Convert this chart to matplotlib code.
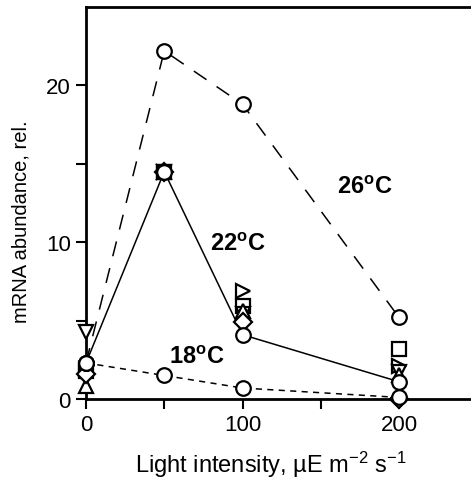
import matplotlib
matplotlib.use("Agg")
import matplotlib.pyplot as plt

plt.rcParams['font.family'] = ['Liberation Sans', 'DejaVu Sans']
plt.rcParams['mathtext.fontset'] = 'custom'
plt.rcParams['mathtext.rm'] = 'Liberation Sans'
plt.rcParams['mathtext.it'] = 'Liberation Sans:italic'
plt.rcParams['mathtext.bf'] = 'Liberation Sans:bold'

# Data
light = [0, 50, 100, 200]
c26 = [2.3, 22.2, 18.8, 5.2]
c22 = [2.3, 14.5, 4.1, 1.1]
c18 = [2.3, 1.5, 0.7, 0.1]
sq = [1.8, 14.5, 5.9, 3.2]
tri_r = [1.9, 14.5, 6.9, 2.1]
tri_d = [4.3, 14.5, 5.4, 1.7]
tri_u = [0.8, 14.5, 5.6, 1.5]
diam = [1.6, 14.5, 4.9, 0.0]
xticks = [0, 50, 100, 150, 200]
xticklabels = ['0', '', '100', '', '200']
yticks = [0, 5, 10, 15, 20]
yticklabels = ['0', '', '10', '', '20']
labels = ['26', '22', '18']
label_pos = [(178, 13.5), (97, 9.9), (71, 2.7)]

fig = plt.figure(figsize=(4.71, 4.81), dpi=100)
ax = fig.add_axes([86/471, 1 - 400/481, 1 - 86/471, 392/481])

lw = 1.1
ax.plot(light, c26, color='black', lw=lw, dashes=(10, 8), zorder=2, clip_on=False)
ax.plot(light, c22, color='black', lw=lw, ls='-', zorder=2, clip_on=False)
ax.plot(light, c18, color='black', lw=lw, dashes=(4, 3.5), zorder=2, clip_on=False)

mk = dict(ls='none', mfc='white', mec='black', mew=1.6, ms=10.5, clip_on=False)
ax.plot(light, sq, marker='s', zorder=3, **mk)
ax.plot(light, tri_r, marker='>', zorder=3, **mk)
ax.plot(light, tri_d, marker='v', zorder=3, **mk)
ax.plot(light, tri_u, marker='^', zorder=3, **mk)
ax.plot(light, diam, marker='D', zorder=3, **{**mk, 'ms': 9})
ax.plot(light, c26, marker='o', zorder=4, **mk)
ax.plot(light, c22, marker='o', zorder=4, **mk)
ax.plot(light, c18, marker='o', zorder=4, **mk)

for lab, (x, y) in zip(labels, label_pos):
    ax.text(x, y, r'$\mathbf{%s^{o}C}$' % lab, fontsize=17, ha='center', va='center')

ax.set_xlim(0, 246)
ax.set_ylim(0, 25)
ax.set_xticks(xticks)
ax.set_xticklabels(xticklabels)
ax.set_yticks(yticks)
ax.set_yticklabels(yticklabels)
ax.tick_params(direction='out', length=7, width=1.5, labelsize=16, pad=4)
ax.spines['right'].set_visible(False)
for s in ['left', 'bottom', 'top']:
    ax.spines[s].set_linewidth(2.0)

ax.set_xlabel(r'Light intensity, µE m$^{-2}$ s$^{-1}$', fontsize=17)
ax.xaxis.set_label_coords((271 - 86) / 385, -50 / 392)
ax.set_ylabel('mRNA abundance, rel.', fontsize=14.5)
ax.yaxis.set_label_coords(-55 / 385, (400 - 222) / 392)

fig.savefig('out.png', dpi=100)
